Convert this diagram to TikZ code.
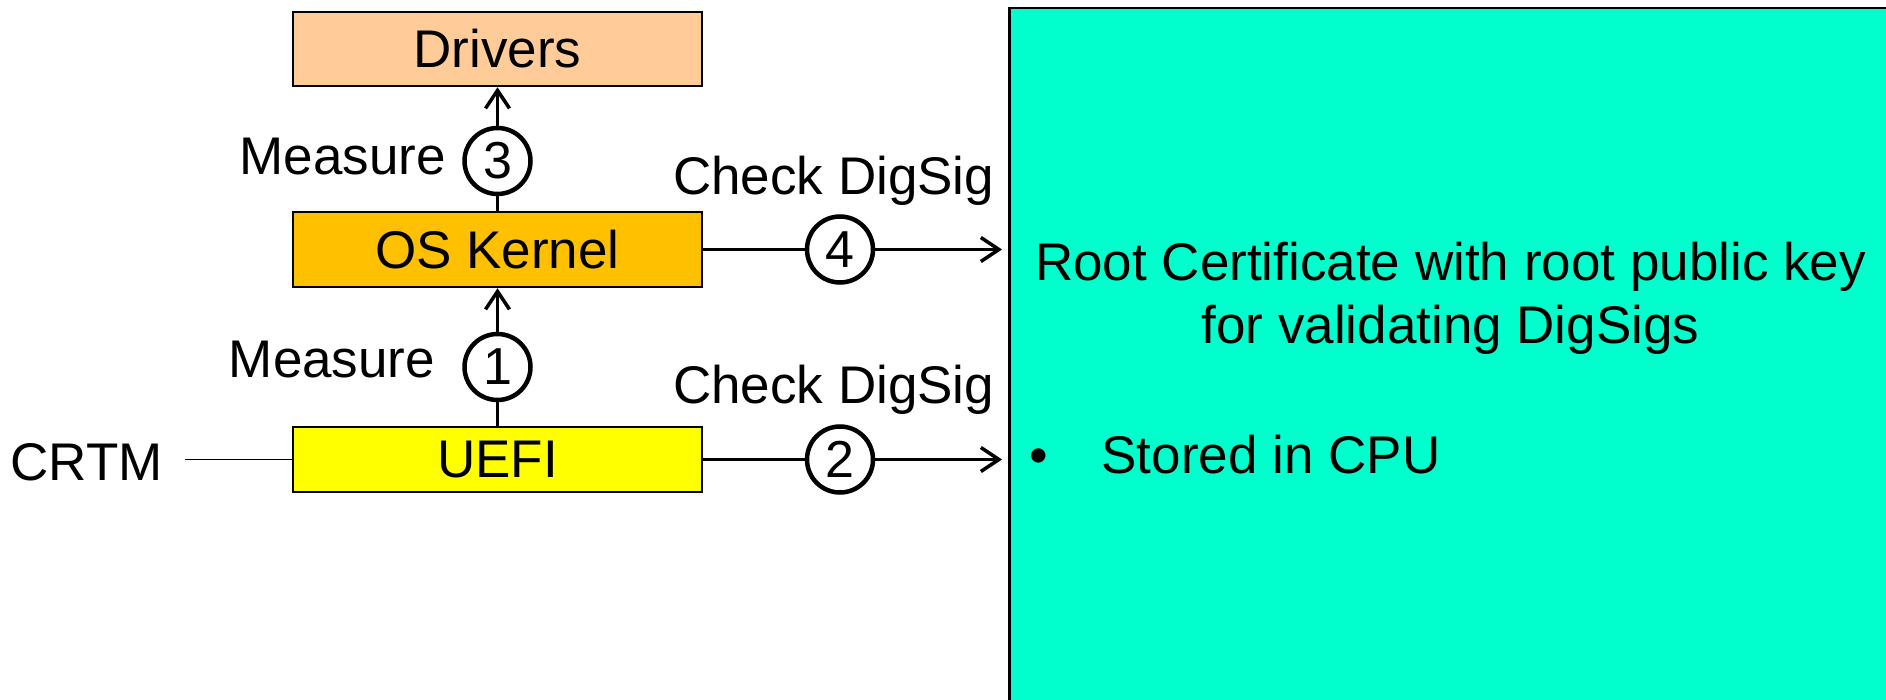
\documentclass[tikz,border=0pt]{standalone}
\usepackage{fontspec}
\setmainfont{Liberation Sans}
\usetikzlibrary{arrows.meta}
\definecolor{peach}{RGB}{255,204,153}
\definecolor{kernelc}{RGB}{255,192,0}
\definecolor{uefic}{RGB}{255,255,0}
\definecolor{aqua}{RGB}{0,255,204}
\begin{document}
\begin{tikzpicture}[x=1pt,y=-1pt,
  font=\fontsize{53}{62}\selectfont,
  stage/.style={draw=black, line width=2.5pt, minimum width=409pt, inner sep=0pt},
  num/.style={circle, draw=black, line width=4.5pt, fill=white, minimum size=66pt, inner sep=0pt, font=\fontsize{52}{60}\selectfont},
  lbl/.style={inner sep=0pt},
  conn/.style={line width=3.5pt},
  arr/.style={line width=3.5pt, -{Straight Barb[length=18pt,width=24pt]}},
  thinline/.style={line width=1.5pt}]
\useasboundingbox (0,0) rectangle (1886,700);
\clip (0,0) rectangle (1886,700);
% right panel
\node[draw=black, line width=2.5pt, fill=aqua, anchor=north west, minimum width=900pt, minimum height=720pt, inner sep=0pt] (root) at (1008,7) {};
\node[lbl, anchor=base] (root1) at (1450.5,281) {Root Certificate with root public key};
\node[lbl, anchor=base] (root2) at (1450.5,343.7) {for validating DigSigs};
\node[lbl, anchor=base] (bul) at (1039,473) {•};
\node[lbl, anchor=base west] (stored) at (1101.4,473) {Stored in CPU};
% boxes
\node[stage, fill=peach, minimum height=74pt] (drivers) at (497.5,49) {Drivers};
\node[stage, fill=kernelc, minimum height=75pt] (kernel) at (497.5,249.5) {OS Kernel};
\node[stage, fill=uefic, minimum height=65pt] (uefi) at (497.5,459.5) {UEFI};
% numbered circles
\node[num] (c3) at (497.5,161) {3};
\node[num] (c1) at (497.5,367) {1};
\node[num] (c4) at (840,249.5) {4};
\node[num] (c2) at (840,459.5) {2};
\coordinate (a4) at (1002,249.5);
\coordinate (a2) at (1002,459.5);
% labels
\node[lbl, anchor=base west] (m3) at (239.6,175) {Measure};
\node[lbl, anchor=base west] (m1) at (228.7,377.7) {Measure};
\node[lbl, anchor=base west] (d4) at (673,195) {Check DigSig};
\node[lbl, anchor=base west] (d2) at (673,403.3) {Check DigSig};
\node[lbl, anchor=base] (crtm) at (86.5,480) {CRTM};
% connectors
\draw[conn] (kernel.north) -- (c3.south);
\draw[arr] (c3.north) -- (drivers.south);
\draw[conn] (uefi.north) -- (c1.south);
\draw[arr] (c1.north) -- (kernel.south);
\draw[conn] (kernel.east) -- (c4.west);
\draw[arr] (c4.east) -- (a4);
\draw[conn] (uefi.east) -- (c2.west);
\draw[arr] (c2.east) -- (a2);
\draw[thinline, shorten <=22pt] (crtm.east |- uefi.west) -- (uefi.west);
\end{tikzpicture}
\end{document}
